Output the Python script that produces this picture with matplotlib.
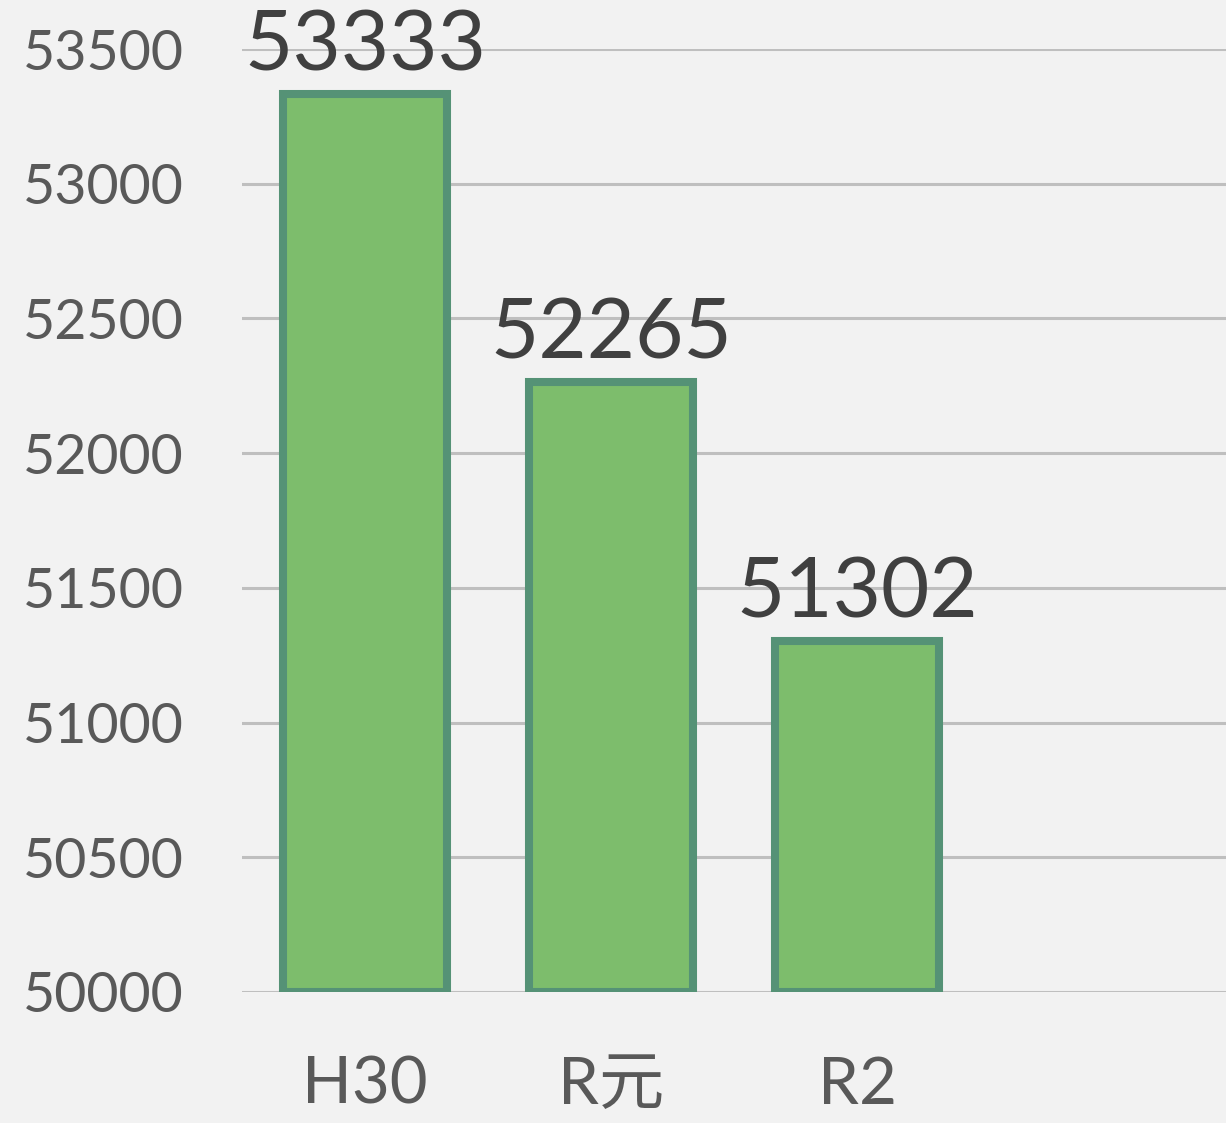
import matplotlib.pyplot as plt

# データ
categories = ['H30', 'R元', 'R2']
values = [53333, 52265, 51302]
y_ticks = [50000, 50500, 51000, 51500, 52000, 52500, 53000, 53500]

plt.rcParams['font.family'] = ['Lato', 'Noto Sans CJK JP', 'DejaVu Sans']

fig = plt.figure(figsize=(12.26, 11.23), dpi=100, facecolor='#f2f2f2')
ax = fig.add_axes([242 / 1226, 131 / 1123, 984 / 1226, 943 / 1123])
ax.set_facecolor('#f2f2f2')

x = list(range(len(categories)))
base = y_ticks[0]
bars = ax.bar(x, [v - base for v in values], bottom=base, width=0.665,
              color='#7dbd6c', edgecolor='#559276', linewidth=5.8, zorder=3)

for xi, v in zip(x, values):
    ax.annotate(str(v), (xi, v), xytext=(0, 6), textcoords='offset points',
                ha='center', va='bottom', fontsize=60, color='#404040',
                annotation_clip=False, zorder=4)

ax.set_xlim(-0.5, 3.5)
ax.set_ylim(50000, 53500)
ax.set_yticks(y_ticks)
ax.set_yticklabels([str(t) for t in y_ticks])
ax.set_xticks(x)
ax.set_xticklabels(categories)
ax.grid(axis='y', color='#bfbfbf', linewidth=2.2, zorder=0)
ax.tick_params(axis='y', length=0, pad=42, labelsize=40, labelcolor='#595959')
ax.tick_params(axis='x', length=0, pad=46, labelsize=47, labelcolor='#595959')
for s in ax.spines.values():
    s.set_visible(False)

fig.savefig('out.png', dpi=100, facecolor='#f2f2f2')
